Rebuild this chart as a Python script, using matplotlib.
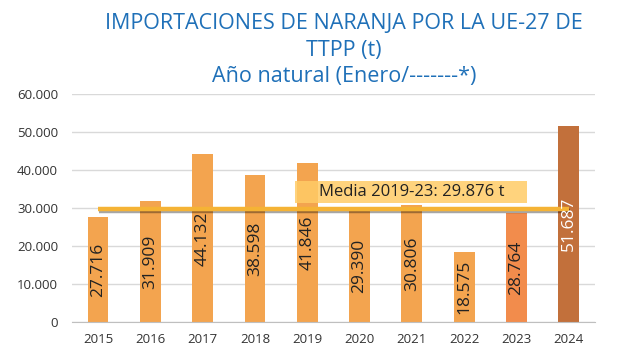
import numpy as np
import matplotlib.pyplot as plt
import matplotlib.patheffects as pe
from matplotlib.patches import Rectangle

years = ['2015', '2016', '2017', '2018', '2019', '2020', '2021', '2022', '2023', '2024']
values = [27716, 31909, 44132, 38598, 41846, 29390, 30806, 18575, 28764, 51687]
labels = ['27.716', '31.909', '44.132', '38.598', '41.846', '29.390', '30.806', '18.575', '28.764', '51.687']
media = 29876
media_label = 'Media 2019-23: 29.876 t'

colors = ['#F3A44F'] * 8 + ['#F28C4C', '#C2703B']

plt.rcParams['font.family'] = ['Open Sans', 'DejaVu Sans']

fig = plt.figure(figsize=(6.25, 3.58), dpi=100)
ax = fig.add_axes([0.115, 0.10, 0.837, 0.637])

x = np.arange(len(years))
ax.bar(x, values, width=0.4, color=colors, zorder=2)

for i, (v, lab) in enumerate(zip(values, labels)):
    tc = 'white' if i == 9 else '#222222'
    ax.text(i, v / 2, lab, rotation=90, ha='center', va='center', fontsize=12.5, color=tc, zorder=4)

# linea de la media
ax.plot([0, 9], [media, media], color='#F5B335', lw=3.2, solid_capstyle='butt', zorder=3,
        path_effects=[pe.SimpleLineShadow(offset=(1, -1.5), alpha=0.35), pe.Normal()])
ax.add_patch(Rectangle((3.77, 31300), 4.43, 5800, fc='#FFCC66', ec='none', alpha=0.85, zorder=5))
ax.text(5.99, 34200, media_label, ha='center', va='center', fontsize=12, color='#222222', zorder=6)

ax.set_ylim(0, 60000)
ax.set_xlim(-0.5, 9.5)
ax.set_yticks(range(0, 60001, 10000))
ax.set_yticklabels(['0', '10.000', '20.000', '30.000', '40.000', '50.000', '60.000'])
ax.set_xticks(x)
ax.set_xticklabels(years)
ax.tick_params(length=0, labelsize=9.5, colors='#333333')
ax.tick_params(axis='y', pad=10)
ax.tick_params(axis='x', pad=8)
ax.grid(axis='y', color='#D9D9D9', lw=1, zorder=0)
for s in ['top', 'right', 'left']:
    ax.spines[s].set_visible(False)
ax.spines['bottom'].set_color('#BFBFBF')

fig.text(0.55, 0.935, 'IMPORTACIONES DE NARANJA POR LA UE-27 DE', ha='center', va='center',
         fontsize=15.5, color='#1F70B8')
fig.text(0.55, 0.86, 'TTPP (t)', ha='center', va='center', fontsize=15.5, color='#1F70B8')
fig.text(0.55, 0.785, 'Año natural (Enero/-------*)', ha='center', va='center',
         fontsize=15.5, color='#1F70B8')

fig.savefig('out.png', dpi=100)
